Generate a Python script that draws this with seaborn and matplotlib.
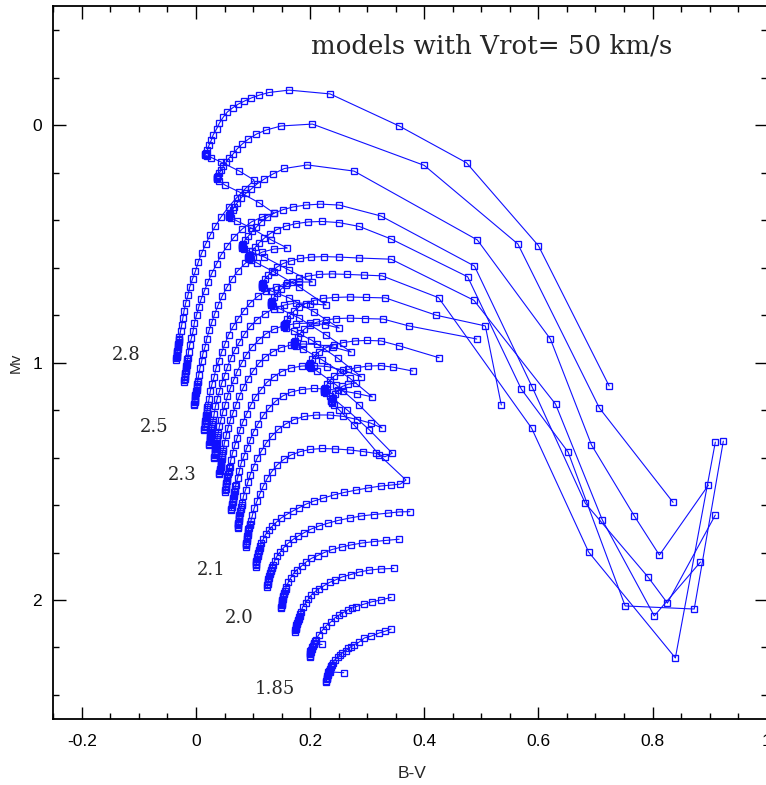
import numpy as np
import pandas as pd
import matplotlib
matplotlib.use("Agg")
import matplotlib.pyplot as plt
import seaborn as sns
from matplotlib.ticker import MultipleLocator, FuncFormatter

# Evolutionary tracks (B-V, Mv) for rotating models, one pair of arrays per mass:
# main sequence, hook, then the crossing towards the red.
bv_280 = [-0.035, -0.035, -0.034, -0.034, -0.034, -0.033, -0.033, -0.033, -0.032, -0.032, -0.031, -0.031, -0.030, -0.030, -0.029, -0.029,
          -0.027, -0.025, -0.023, -0.021, -0.018, -0.014, -0.011, -0.006, -0.001, 0.004, 0.010, 0.017, 0.025, 0.034, 0.044, 0.057, 0.071, 0.086, 0.102,
          0.076, 0.044, 0.027, 0.020, 0.017, 0.016, 0.016, 0.017,
          0.018, 0.020, 0.023, 0.027, 0.030, 0.036, 0.041, 0.048, 0.055, 0.064, 0.074, 0.085, 0.097, 0.111, 0.128, 0.163, 0.235, 0.356, 0.474, 0.600, 0.724]
mv_280 = [0.989, 0.983, 0.978, 0.973, 0.967, 0.962, 0.956, 0.950, 0.943, 0.935, 0.928, 0.921, 0.914, 0.907, 0.900, 0.893,
          0.867, 0.842, 0.813, 0.783, 0.749, 0.716, 0.682, 0.648, 0.615, 0.577, 0.539, 0.501, 0.463, 0.425, 0.387, 0.345, 0.307, 0.269, 0.232,
          0.194, 0.156, 0.137, 0.131, 0.128, 0.125, 0.122, 0.120,
          0.118, 0.105, 0.084, 0.063, 0.042, 0.017, -0.008, -0.034, -0.055, -0.072, -0.088, -0.101, -0.114, -0.126, -0.137, -0.147, -0.131, 0.004, 0.159, 0.508, 1.099]

bv_270 = [-0.021, -0.021, -0.020, -0.020, -0.020, -0.019, -0.019, -0.018, -0.018, -0.017, -0.017, -0.016, -0.016, -0.015, -0.015, -0.014,
          -0.013, -0.011, -0.008, -0.005, -0.003, 0.001, 0.005, 0.009, 0.015, 0.021, 0.028, 0.036, 0.044, 0.055, 0.067, 0.081, 0.097, 0.116, 0.137,
          0.111, 0.076, 0.051, 0.041, 0.037, 0.036, 0.036, 0.037,
          0.039, 0.041, 0.044, 0.048, 0.053, 0.058, 0.065, 0.072, 0.081, 0.092, 0.106, 0.123, 0.149, 0.204, 0.400, 0.564, 0.707, 0.836]
mv_270 = [1.081, 1.075, 1.069, 1.063, 1.057, 1.050, 1.044, 1.037, 1.030, 1.023, 1.016, 1.009, 1.002, 0.994, 0.987, 0.979,
          0.954, 0.926, 0.897, 0.867, 0.834, 0.800, 0.766, 0.733, 0.697, 0.661, 0.623, 0.585, 0.547, 0.509, 0.472, 0.438, 0.408, 0.387, 0.371,
          0.328, 0.282, 0.253, 0.236, 0.227, 0.224, 0.221, 0.218,
          0.215, 0.202, 0.189, 0.173, 0.156, 0.139, 0.122, 0.101, 0.080, 0.059, 0.038, 0.021, 0.004, -0.004, 0.170, 0.501, 1.192, 1.589]

bv_260 = [-0.003, -0.003, -0.002, -0.002, -0.002, -0.001, -0.001, -0.001, 0.000, 0.000, 0.001, 0.001, 0.002, 0.002, 0.003, 0.003,
          0.005, 0.007, 0.010, 0.012, 0.016, 0.019, 0.023, 0.028, 0.033, 0.039, 0.046, 0.054, 0.063, 0.073, 0.086, 0.100, 0.116, 0.137, 0.160,
          0.132, 0.097, 0.072, 0.062, 0.058, 0.057, 0.057, 0.058, 0.059,
          0.060, 0.064, 0.067, 0.072, 0.079, 0.088, 0.097, 0.107, 0.120, 0.135, 0.155, 0.195, 0.277, 0.493, 0.621, 0.693, 0.768, 0.812, 0.898]
mv_260 = [1.179, 1.173, 1.168, 1.162, 1.156, 1.149, 1.143, 1.136, 1.129, 1.122, 1.114, 1.107, 1.099, 1.091, 1.084, 1.076,
          1.051, 1.023, 0.994, 0.964, 0.933, 0.899, 0.865, 0.829, 0.794, 0.758, 0.720, 0.684, 0.648, 0.615, 0.583, 0.556, 0.535, 0.522, 0.518,
          0.484, 0.434, 0.404, 0.392, 0.387, 0.384, 0.381, 0.377, 0.374,
          0.371, 0.358, 0.345, 0.328, 0.307, 0.286, 0.269, 0.248, 0.227, 0.206, 0.183, 0.168, 0.194, 0.484, 0.901, 1.347, 1.646, 1.811, 1.516]

bv_250 = [0.014, 0.014, 0.015, 0.015, 0.015, 0.016, 0.016, 0.017, 0.017, 0.018, 0.018, 0.019, 0.019, 0.020, 0.020, 0.021,
          0.023, 0.025, 0.028, 0.032, 0.035, 0.040, 0.045, 0.051, 0.057, 0.065, 0.074, 0.084, 0.095, 0.108, 0.123, 0.141, 0.160, 0.181, 0.204,
          0.163, 0.120, 0.093, 0.085, 0.081, 0.080, 0.080, 0.081, 0.082,
          0.083, 0.086, 0.092, 0.099, 0.106, 0.114, 0.125, 0.137, 0.153, 0.170, 0.192, 0.218, 0.251, 0.324, 0.488, 0.589, 0.682, 0.792, 0.826, 0.910]
mv_250 = [1.284, 1.278, 1.273, 1.267, 1.261, 1.254, 1.248, 1.241, 1.234, 1.227, 1.219, 1.212, 1.204, 1.196, 1.187, 1.179,
          1.152, 1.122, 1.091, 1.059, 1.025, 0.992, 0.956, 0.920, 0.884, 0.848, 0.815, 0.781, 0.749, 0.722, 0.699, 0.680, 0.667, 0.661, 0.661,
          0.611, 0.556, 0.531, 0.522, 0.518, 0.515, 0.511, 0.507, 0.504,
          0.501, 0.484, 0.467, 0.446, 0.429, 0.408, 0.389, 0.371, 0.356, 0.345, 0.337, 0.333, 0.337, 0.383, 0.594, 1.103, 1.592, 1.903, 2.013, 1.642]

bv_245 = [0.023, 0.023, 0.024, 0.024, 0.024, 0.025, 0.025, 0.025, 0.026, 0.026, 0.027, 0.027, 0.028, 0.028, 0.029, 0.030,
          0.032, 0.034, 0.037, 0.041, 0.045, 0.050, 0.055, 0.061, 0.068, 0.076, 0.085, 0.095, 0.107, 0.121, 0.136, 0.155, 0.176, 0.200, 0.228,
          0.181, 0.137, 0.107, 0.097, 0.093, 0.092, 0.092, 0.093, 0.094,
          0.095, 0.099, 0.104, 0.111, 0.120, 0.130, 0.142, 0.158, 0.176, 0.197, 0.221, 0.251, 0.286, 0.342, 0.476, 0.570, 0.652, 0.752, 0.873, 0.924]
mv_245 = [1.347, 1.342, 1.336, 1.331, 1.325, 1.318, 1.312, 1.305, 1.298, 1.291, 1.283, 1.275, 1.267, 1.259, 1.250, 1.242,
          1.215, 1.185, 1.154, 1.122, 1.088, 1.055, 1.019, 0.983, 0.947, 0.914, 0.880, 0.848, 0.819, 0.794, 0.773, 0.758, 0.749, 0.752, 0.758,
          0.682, 0.619, 0.581, 0.568, 0.564, 0.561, 0.557, 0.553, 0.550,
          0.547, 0.531, 0.514, 0.495, 0.476, 0.457, 0.440, 0.425, 0.415, 0.408, 0.406, 0.411, 0.427, 0.480, 0.639, 1.112, 1.377, 2.025, 2.038, 1.331]

bv_240 = [0.032, 0.032, 0.033, 0.033, 0.033, 0.034, 0.034, 0.034, 0.035, 0.035, 0.036, 0.036, 0.037, 0.037, 0.038, 0.039,
          0.041, 0.044, 0.047, 0.051, 0.055, 0.060, 0.066, 0.072, 0.080, 0.088, 0.098, 0.110, 0.122, 0.137, 0.155, 0.176, 0.199, 0.226, 0.251,
          0.207, 0.163, 0.132, 0.120, 0.116, 0.115, 0.115, 0.116, 0.117,
          0.118, 0.121, 0.127, 0.134, 0.142, 0.153, 0.167, 0.183, 0.202, 0.225, 0.251, 0.286, 0.342, 0.487, 0.630, 0.712, 0.803, 0.884]
mv_240 = [1.402, 1.396, 1.391, 1.385, 1.379, 1.372, 1.366, 1.359, 1.352, 1.345, 1.337, 1.330, 1.322, 1.314, 1.305, 1.297,
          1.269, 1.240, 1.208, 1.177, 1.143, 1.109, 1.074, 1.038, 1.002, 0.968, 0.935, 0.905, 0.880, 0.859, 0.844, 0.836, 0.834, 0.840, 0.855,
          0.787, 0.728, 0.699, 0.686, 0.682, 0.679, 0.675, 0.671, 0.668,
          0.665, 0.648, 0.632, 0.615, 0.598, 0.583, 0.571, 0.562, 0.556, 0.554, 0.556, 0.560, 0.565, 0.738, 1.175, 1.663, 2.067, 1.840]

bv_235 = [0.041, 0.041, 0.042, 0.042, 0.042, 0.043, 0.043, 0.043, 0.044, 0.044, 0.045, 0.045, 0.046, 0.046, 0.047, 0.048,
          0.050, 0.053, 0.056, 0.060, 0.065, 0.070, 0.076, 0.083, 0.091, 0.100, 0.110, 0.121, 0.135, 0.149, 0.167, 0.188, 0.212, 0.240, 0.272,
          0.228, 0.181, 0.148, 0.135, 0.132, 0.131, 0.131, 0.132, 0.133,
          0.134, 0.137, 0.142, 0.149, 0.158, 0.169, 0.181, 0.197, 0.216, 0.239, 0.265, 0.295, 0.326, 0.425, 0.588, 0.688, 0.840, 0.910]
mv_235 = [1.469, 1.464, 1.458, 1.453, 1.447, 1.440, 1.434, 1.427, 1.420, 1.413, 1.405, 1.397, 1.389, 1.381, 1.372, 1.364,
          1.337, 1.307, 1.276, 1.244, 1.211, 1.177, 1.141, 1.105, 1.069, 1.036, 1.004, 0.977, 0.954, 0.937, 0.926, 0.922, 0.924, 0.935, 0.956,
          0.884, 0.813, 0.775, 0.762, 0.758, 0.755, 0.751, 0.747, 0.744,
          0.741, 0.724, 0.707, 0.691, 0.674, 0.659, 0.646, 0.636, 0.629, 0.627, 0.629, 0.632, 0.635, 0.727, 1.276, 1.798, 2.244, 1.335]

bv_230 = [0.051, 0.051, 0.052, 0.052, 0.052, 0.053, 0.053, 0.054, 0.054, 0.055, 0.055, 0.056, 0.057, 0.057, 0.058, 0.059,
          0.061, 0.064, 0.068, 0.072, 0.077, 0.082, 0.089, 0.096, 0.104, 0.114, 0.124, 0.137, 0.150, 0.166, 0.185, 0.206, 0.230, 0.258, 0.290,
          0.248, 0.202, 0.171, 0.158, 0.155, 0.154, 0.154, 0.155, 0.156,
          0.157, 0.160, 0.165, 0.172, 0.181, 0.192, 0.206, 0.223, 0.244, 0.269, 0.298, 0.332, 0.421, 0.507, 0.535]
mv_230 = [1.544, 1.538, 1.532, 1.526, 1.520, 1.513, 1.507, 1.500, 1.493, 1.486, 1.478, 1.471, 1.463, 1.455, 1.446, 1.438,
          1.411, 1.381, 1.349, 1.318, 1.284, 1.251, 1.215, 1.179, 1.145, 1.114, 1.084, 1.059, 1.038, 1.023, 1.015, 1.013, 1.017, 1.032, 1.061,
          0.981, 0.905, 0.867, 0.855, 0.851, 0.848, 0.844, 0.840, 0.837,
          0.834, 0.817, 0.800, 0.783, 0.766, 0.752, 0.739, 0.730, 0.726, 0.724, 0.726, 0.728, 0.801, 0.846, 1.179]

bv_225 = [0.062, 0.062, 0.063, 0.063, 0.063, 0.064, 0.064, 0.065, 0.065, 0.066, 0.066, 0.067, 0.068, 0.068, 0.069, 0.070,
          0.073, 0.076, 0.079, 0.084, 0.089, 0.095, 0.101, 0.109, 0.118, 0.128, 0.139, 0.152, 0.167, 0.185, 0.206, 0.230, 0.258, 0.283, 0.309,
          0.269, 0.221, 0.188, 0.176, 0.172, 0.171, 0.171, 0.172, 0.173,
          0.174, 0.178, 0.183, 0.190, 0.199, 0.211, 0.227, 0.246, 0.269, 0.297, 0.328, 0.373, 0.492]
mv_225 = [1.621, 1.615, 1.608, 1.602, 1.596, 1.589, 1.583, 1.576, 1.569, 1.562, 1.554, 1.547, 1.539, 1.531, 1.522, 1.514,
          1.486, 1.457, 1.425, 1.394, 1.360, 1.326, 1.291, 1.257, 1.223, 1.192, 1.164, 1.141, 1.124, 1.114, 1.109, 1.112, 1.120, 1.131, 1.145,
          1.065, 0.989, 0.943, 0.931, 0.926, 0.923, 0.919, 0.915, 0.912,
          0.909, 0.893, 0.876, 0.859, 0.844, 0.831, 0.821, 0.815, 0.813, 0.815, 0.817, 0.846, 0.901]

bv_220 = [0.073, 0.073, 0.074, 0.074, 0.074, 0.075, 0.075, 0.075, 0.076, 0.076, 0.077, 0.077, 0.078, 0.079, 0.080, 0.081,
          0.083, 0.087, 0.091, 0.095, 0.101, 0.107, 0.115, 0.123, 0.133, 0.144, 0.157, 0.172, 0.190, 0.211, 0.234, 0.258, 0.283, 0.306, 0.326,
          0.286, 0.246, 0.212, 0.202, 0.199, 0.198, 0.198, 0.199, 0.200,
          0.200, 0.204, 0.209, 0.216, 0.227, 0.241, 0.258, 0.279, 0.300, 0.324, 0.355, 0.426]
mv_220 = [1.698, 1.692, 1.686, 1.680, 1.674, 1.667, 1.661, 1.654, 1.647, 1.640, 1.632, 1.625, 1.617, 1.609, 1.600, 1.592,
          1.564, 1.535, 1.503, 1.472, 1.438, 1.404, 1.371, 1.339, 1.309, 1.282, 1.259, 1.240, 1.227, 1.221, 1.221, 1.227, 1.240, 1.255, 1.276,
          1.179, 1.095, 1.036, 1.023, 1.019, 1.016, 1.012, 1.008, 1.005,
          1.002, 0.985, 0.968, 0.954, 0.939, 0.926, 0.916, 0.909, 0.907, 0.909, 0.929, 0.980]

bv_215 = [0.088, 0.088, 0.088, 0.088, 0.089, 0.089, 0.090, 0.090, 0.091, 0.091, 0.092, 0.092, 0.093, 0.094, 0.095, 0.096,
          0.099, 0.102, 0.107, 0.112, 0.118, 0.125, 0.133, 0.142, 0.154, 0.167, 0.183, 0.200, 0.221, 0.244, 0.269, 0.293, 0.316, 0.331, 0.344,
          0.304, 0.265, 0.235, 0.228, 0.225, 0.224, 0.224, 0.225, 0.226,
          0.226, 0.230, 0.235, 0.242, 0.253, 0.267, 0.283, 0.302, 0.324, 0.346, 0.380]
mv_215 = [1.776, 1.770, 1.764, 1.758, 1.752, 1.745, 1.739, 1.732, 1.725, 1.718, 1.710, 1.703, 1.695, 1.686, 1.678, 1.669,
          1.642, 1.613, 1.583, 1.552, 1.520, 1.488, 1.459, 1.432, 1.408, 1.389, 1.375, 1.366, 1.362, 1.364, 1.368, 1.375, 1.383, 1.397, 1.382,
          1.284, 1.200, 1.141, 1.128, 1.124, 1.121, 1.117, 1.113, 1.110,
          1.107, 1.091, 1.074, 1.057, 1.042, 1.029, 1.021, 1.015, 1.013, 1.020, 1.036]

bv_210 = [0.105, 0.105, 0.106, 0.106, 0.106, 0.107, 0.107, 0.108, 0.108, 0.109, 0.110, 0.111, 0.112, 0.113, 0.114,
          0.118, 0.122, 0.128, 0.134, 0.141, 0.149, 0.159, 0.170, 0.181, 0.193, 0.207, 0.223, 0.241, 0.260, 0.281, 0.302, 0.324, 0.342, 0.358, 0.368,
          0.321, 0.277, 0.251, 0.242, 0.239, 0.238, 0.237, 0.237, 0.238,
          0.240, 0.244, 0.249, 0.256, 0.267, 0.281]
mv_210 = [1.860, 1.853, 1.847, 1.840, 1.834, 1.827, 1.821, 1.815, 1.808, 1.802, 1.795, 1.788, 1.781, 1.772, 1.762,
          1.743, 1.724, 1.705, 1.688, 1.672, 1.655, 1.640, 1.625, 1.611, 1.596, 1.583, 1.571, 1.558, 1.547, 1.537, 1.528, 1.520, 1.516, 1.512, 1.495,
          1.389, 1.263, 1.200, 1.179, 1.171, 1.168, 1.164, 1.160, 1.155,
          1.149, 1.133, 1.116, 1.101, 1.091, 1.086]

bv_205 = [0.125, 0.125, 0.126, 0.126, 0.127, 0.127, 0.128, 0.128, 0.129, 0.130, 0.131, 0.132, 0.133, 0.134, 0.135,
          0.138, 0.142, 0.148, 0.154, 0.161, 0.170, 0.179, 0.190, 0.202, 0.216, 0.232, 0.249, 0.269, 0.290, 0.312, 0.337, 0.356, 0.375]
mv_205 = [1.944, 1.938, 1.932, 1.926, 1.920, 1.913, 1.907, 1.899, 1.891, 1.885, 1.878, 1.872, 1.866, 1.859, 1.853,
          1.834, 1.815, 1.796, 1.779, 1.762, 1.745, 1.731, 1.716, 1.701, 1.688, 1.676, 1.665, 1.655, 1.646, 1.640, 1.634, 1.629, 1.628]

bv_200 = [0.149, 0.149, 0.150, 0.150, 0.150, 0.151, 0.151, 0.152, 0.152, 0.153, 0.154, 0.155, 0.156, 0.157, 0.158,
          0.162, 0.166, 0.171, 0.177, 0.185, 0.193, 0.202, 0.213, 0.225, 0.239, 0.255, 0.272, 0.291, 0.312, 0.333, 0.356]
mv_200 = [2.035, 2.029, 2.023, 2.017, 2.011, 2.006, 2.000, 1.994, 1.989, 1.983, 1.976, 1.969, 1.962, 1.953, 1.945,
          1.924, 1.907, 1.888, 1.872, 1.857, 1.840, 1.825, 1.813, 1.800, 1.787, 1.777, 1.768, 1.760, 1.754, 1.749, 1.744]

bv_195 = [0.174, 0.174, 0.175, 0.175, 0.176, 0.176, 0.177, 0.177, 0.178, 0.179, 0.180, 0.181, 0.182, 0.183, 0.184,
          0.187, 0.192, 0.197, 0.202, 0.209, 0.216, 0.225, 0.234, 0.244, 0.256, 0.271, 0.286, 0.304, 0.324, 0.347]
mv_195 = [2.133, 2.128, 2.123, 2.118, 2.112, 2.107, 2.101, 2.095, 2.089, 2.084, 2.078, 2.073, 2.067, 2.059, 2.051,
          2.029, 2.013, 1.996, 1.979, 1.964, 1.952, 1.939, 1.926, 1.916, 1.903, 1.893, 1.882, 1.874, 1.869, 1.867]

bv_190 = [0.221, 0.207, 0.200,
          0.199, 0.199, 0.200, 0.200, 0.201, 0.202, 0.203, 0.204, 0.205, 0.206, 0.207, 0.208, 0.210,
          0.215, 0.222, 0.228, 0.237, 0.243, 0.251, 0.258, 0.266, 0.273, 0.280, 0.295, 0.309, 0.324, 0.342]
mv_190 = [2.187, 2.187, 2.215,
          2.239, 2.234, 2.229, 2.223, 2.218, 2.212, 2.206, 2.199, 2.192, 2.185, 2.179, 2.174, 2.168,
          2.147, 2.126, 2.109, 2.091, 2.076, 2.063, 2.053, 2.042, 2.034, 2.028, 2.017, 2.007, 2.000, 1.989]

bv_185 = [0.259, 0.235, 0.229,
          0.228, 0.228, 0.229, 0.229, 0.230, 0.231, 0.231, 0.232, 0.233, 0.234, 0.235, 0.236, 0.237, 0.238, 0.240,
          0.243, 0.248, 0.252, 0.256, 0.262, 0.267, 0.272, 0.277, 0.286, 0.295, 0.307, 0.321, 0.332, 0.342]
mv_185 = [2.306, 2.303, 2.328,
          2.344, 2.339, 2.333, 2.328, 2.322, 2.316, 2.311, 2.305, 2.299, 2.294, 2.289, 2.284, 2.278, 2.272, 2.265,
          2.253, 2.240, 2.232, 2.223, 2.215, 2.204, 2.196, 2.189, 2.177, 2.160, 2.152, 2.139, 2.131, 2.122]

masses = ["2.8", "2.7", "2.6", "2.5", "2.45", "2.4", "2.35", "2.3", "2.25", "2.2",
          "2.15", "2.1", "2.05", "2.0", "1.95", "1.9", "1.85"]
track_bv = [bv_280, bv_270, bv_260, bv_250, bv_245, bv_240, bv_235, bv_230, bv_225, bv_220,
            bv_215, bv_210, bv_205, bv_200, bv_195, bv_190, bv_185]
track_mv = [mv_280, mv_270, mv_260, mv_250, mv_245, mv_240, mv_235, mv_230, mv_225, mv_220,
            mv_215, mv_210, mv_205, mv_200, mv_195, mv_190, mv_185]

# Mass labels written beside the zero-age main sequence
label_text = ["2.8", "2.5", "2.3", "2.1", "2.0", "1.85"]
label_bv = [-0.122, -0.073, -0.024, 0.027, 0.076, 0.139]
label_mv = [0.968, 1.272, 1.474, 1.874, 2.076, 2.375]

frames = []
for m, bv, mv in zip(masses, track_bv, track_mv):
    frames.append(pd.DataFrame({"mass": m, "bv": bv, "mv": mv, "step": np.arange(len(bv))}))
df = pd.concat(frames, ignore_index=True)

sns.set_style("ticks")
plt.rcParams["font.family"] = ["Liberation Sans", "DejaVu Sans"]

fig = plt.figure(figsize=(7.66, 7.85), dpi=100)
ax = fig.add_axes([0.0696, 0.0844, 0.9313, 0.9076])

blue = "#1010ff"
sns.lineplot(data=df, x="bv", y="mv", units="mass", estimator=None, sort=False,
             color=blue, lw=0.8, marker="s", markersize=4.5,
             markerfacecolor="none", markeredgecolor=blue, markeredgewidth=0.95,
             legend=False, ax=ax)

ax.set_xlim(-0.25, 1.0)
ax.set_ylim(2.5, -0.5)
ax.xaxis.set_major_locator(MultipleLocator(0.2))
ax.xaxis.set_minor_locator(MultipleLocator(0.05))
ax.yaxis.set_major_locator(MultipleLocator(1.0))
ax.yaxis.set_minor_locator(MultipleLocator(0.2))


def fmt(v, pos):
    if abs(v) < 1e-9:
        return "0"
    return f"{round(v, 2):g}"


ax.xaxis.set_major_formatter(FuncFormatter(fmt))
ax.yaxis.set_major_formatter(FuncFormatter(fmt))

ax.tick_params(which="both", direction="in", top=True, right=True, colors="black", width=1.0)
ax.tick_params(which="major", length=9, labelsize=12.5)
ax.tick_params(axis="x", which="major", pad=11)
ax.tick_params(axis="y", which="major", pad=8)
ax.tick_params(which="minor", length=4.5)
for s in ax.spines.values():
    s.set_linewidth(1.3)
    s.set_color("black")

ax.set_xlabel("B-V", fontsize=12.5)
ax.set_ylabel("Mv", fontsize=11)
ax.xaxis.set_label_coords(0.503, -0.066)
ax.yaxis.set_label_coords(-0.043, 0.5)

ax.text(0.202, -0.333, "models with Vrot= 50 km/s", family="DejaVu Serif",
        fontsize=18.8, ha="left", va="center")
for t, x, y in zip(label_text, label_bv, label_mv):
    ax.text(x, y, t, family="DejaVu Serif", fontsize=13, ha="center", va="center")

fig.savefig("out.png", dpi=100)
